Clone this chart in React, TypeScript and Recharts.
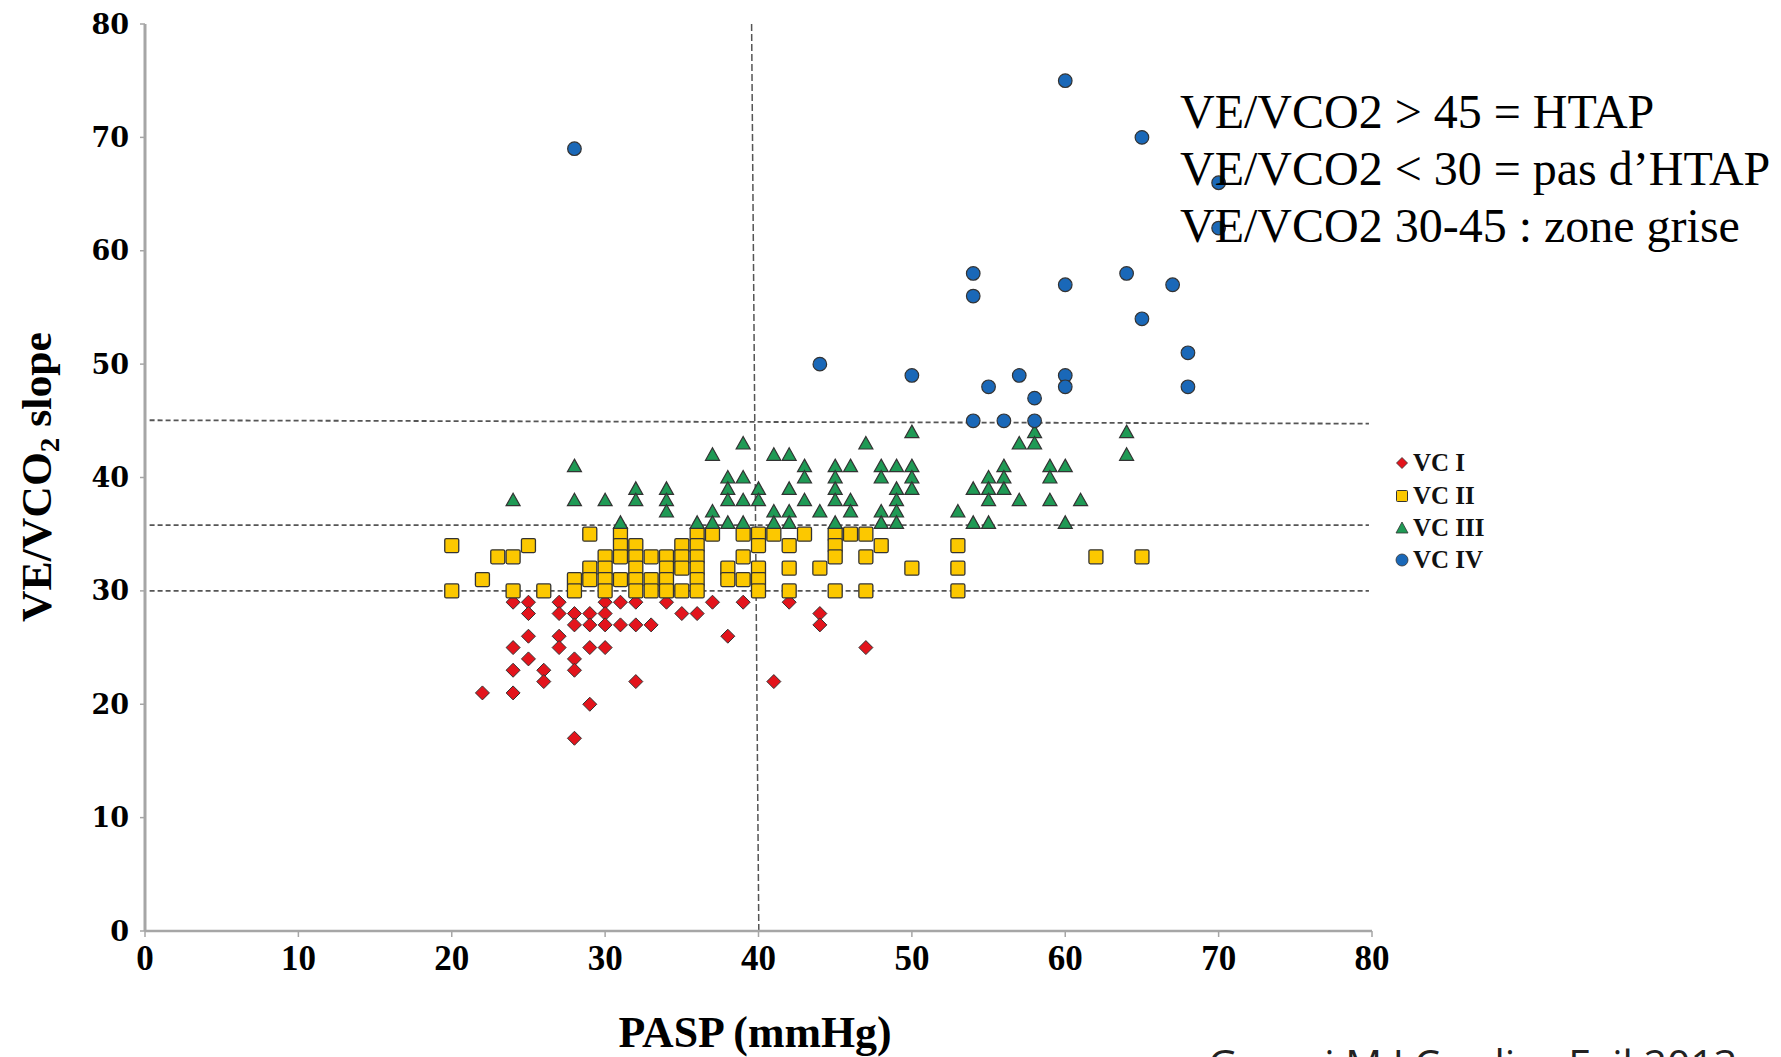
import React from 'react';
import { ScatterChart, Scatter, XAxis, YAxis, ReferenceLine } from 'recharts';

// ---------- data ----------
const xTicks = [0, 10, 20, 30, 40, 50, 60, 70, 80];
const yTicks = [0, 10, 20, 30, 40, 50, 60, 70, 80];

const seriesNames = ['VC I', 'VC II', 'VC III', 'VC IV'];

const vc1: [number, number][] = [
  [22, 21], [24, 29], [24, 25], [24, 23], [24, 21], [25, 29], [25, 28], [25, 26], [25, 24],
  [26, 23], [26, 22], [27, 29], [27, 28], [27, 26], [27, 25], [28, 28], [28, 27], [28, 24],
  [28, 23], [28, 17], [29, 28], [29, 27], [29, 25], [29, 20], [30, 29], [30, 28], [30, 27],
  [30, 25], [31, 29], [31, 27], [32, 29], [32, 27], [32, 22], [33, 27], [34, 29], [35, 28],
  [36, 28], [37, 29], [38, 26], [39, 29], [41, 22], [42, 29], [44, 28], [44, 27], [47, 25],
];

const vc2: [number, number][] = [
  [20, 34], [20, 30], [22, 31], [23, 33], [24, 33], [25, 34], [24, 30], [26, 30], [28, 31],
  [28, 30], [29, 35], [29, 32], [29, 31], [30, 33], [30, 32], [30, 31], [30, 30], [31, 35],
  [31, 34], [31, 33], [31, 31], [32, 34], [32, 33], [32, 32], [32, 31], [32, 30], [33, 33],
  [33, 31], [33, 30], [34, 33], [34, 32], [34, 31], [34, 30], [35, 34], [35, 33], [35, 32],
  [35, 30], [36, 35], [36, 34], [36, 33], [36, 32], [36, 31], [36, 30], [37, 35], [38, 32],
  [38, 31], [39, 35], [39, 33], [39, 31], [40, 35], [40, 34], [40, 32], [40, 31], [40, 30],
  [41, 35], [42, 34], [42, 32], [42, 30], [43, 35], [44, 32], [45, 35], [45, 34], [45, 33],
  [45, 30], [46, 35], [47, 35], [47, 33], [47, 30], [48, 34], [50, 32], [53, 34], [53, 32],
  [53, 30], [62, 33], [65, 33],
];

const vc3: [number, number][] = [
  [24, 38], [28, 41], [28, 38], [30, 38], [31, 36], [32, 39], [32, 38], [34, 39], [34, 38],
  [34, 37], [36, 36], [37, 42], [37, 37], [37, 36], [38, 40], [38, 39], [38, 38], [38, 36],
  [39, 43], [39, 40], [39, 38], [39, 36], [40, 39], [40, 38], [41, 42], [41, 37], [41, 36],
  [42, 42], [42, 39], [42, 37], [42, 36], [43, 41], [43, 40], [43, 38], [44, 37], [45, 41],
  [45, 40], [45, 39], [45, 38], [45, 36], [46, 41], [46, 38], [46, 37], [47, 43], [48, 41],
  [48, 40], [48, 37], [48, 36], [49, 41], [49, 39], [49, 38], [49, 37], [49, 36], [50, 44],
  [50, 41], [50, 40], [50, 39], [53, 37], [54, 39], [54, 36], [55, 40], [55, 39], [55, 38],
  [55, 36], [56, 41], [56, 40], [56, 39], [57, 43], [57, 38], [58, 44], [58, 43], [59, 41],
  [59, 40], [59, 38], [60, 41], [60, 36], [61, 38], [64, 44], [64, 42],
];

const vc4: [number, number][] = [
  [28, 69], [60, 75], [65, 70], [70, 66], [70, 62], [54, 58], [54, 56], [60, 57], [64, 58],
  [67, 57], [65, 54], [68, 51], [68, 48], [44, 50], [50, 49], [57, 49], [60, 49], [60, 48],
  [55, 48], [58, 47], [54, 45], [56, 45], [58, 45],
];

const hLines = [35.8, 30];
const annotationLines = [
  'VE/VCO2 > 45 = HTAP',
  'VE/VCO2 < 30 = pas d\u2019HTAP',
  'VE/VCO2 30-45 : zone grise',
];
const citation = 'Guazzi M J Cardiac Fail 2013';

// ---------- styles ----------
const RED = '#e3141c';
const YELLOW = '#fcc800';
const GREEN = '#1f9a55';
const BLUE = '#1a68b8';
const EDGE = '#333333';
const DASH = '#555555';

const toPts = (arr: [number, number][]) => arr.map(([x, y]) => ({ x, y }));

const Diamond = (p: any) => {
  const { cx, cy } = p;
  const r = 7;
  return (
    <path
      d={`M${cx},${cy - r}L${cx + r},${cy}L${cx},${cy + r}L${cx - r},${cy}Z`}
      fill={RED}
      stroke={EDGE}
      strokeWidth={1}
    />
  );
};
const Square = (p: any) => {
  const { cx, cy } = p;
  const h = 7;
  return (
    <rect x={cx - h} y={cy - h} width={2 * h} height={2 * h} rx={1.5} fill={YELLOW} stroke={EDGE} strokeWidth={1.3} />
  );
};
const Tri = (p: any) => {
  const { cx, cy } = p;
  return (
    <path
      d={`M${cx},${cy - 7}L${cx + 7},${cy + 5.5}L${cx - 7},${cy + 5.5}Z`}
      fill={GREEN}
      stroke={EDGE}
      strokeWidth={1.2}
    />
  );
};
const Dot = (p: any) => {
  const { cx, cy } = p;
  return <circle cx={cx} cy={cy} r={6.8} fill={BLUE} stroke={EDGE} strokeWidth={1.2} />;
};

const LegendMarker = ({ i, x, y }: { i: number; x: number; y: number }) => {
  if (i === 0) return <path d={`M${x},${y - 5.5}L${x + 5.5},${y}L${x},${y + 5.5}L${x - 5.5},${y}Z`} fill={RED} stroke={EDGE} strokeWidth={0.8} />;
  if (i === 1) return <rect x={x - 5.5} y={y - 5.5} width={11} height={11} rx={1} fill={YELLOW} stroke={EDGE} strokeWidth={1} />;
  if (i === 2) return <path d={`M${x},${y - 6}L${x + 6},${y + 5}L${x - 6},${y + 5}Z`} fill={GREEN} stroke={EDGE} strokeWidth={0.8} />;
  return <circle cx={x} cy={y} r={6} fill={BLUE} stroke={EDGE} strokeWidth={0.8} />;
};

export default function App() {
  const legendRows = [463, 496, 528, 560];
  return (
    <div style={{ position: 'absolute', left: 0, top: 0, width: 1781, height: 1057, background: '#fff', overflow: 'hidden' }}>
      <ScatterChart width={1781} height={1057} margin={{ top: 24, right: 409, bottom: 0, left: 0 }}>
        <XAxis
          type="number"
          dataKey="x"
          domain={[0, 80]}
          ticks={xTicks}
          interval={0}
          height={126}
          tickSize={6}
          tickMargin={8}
          axisLine={{ stroke: '#a6a6a6', strokeWidth: 2.5 }}
          tickLine={{ stroke: '#a6a6a6', strokeWidth: 1.5 }}
          tick={{ fontFamily: 'Liberation Serif', fontWeight: 'bold', fontSize: 35, fill: '#000' }}
        />
        <YAxis
          type="number"
          dataKey="y"
          domain={[0, 80]}
          ticks={yTicks}
          interval={0}
          width={145}
          tickSize={5}
          tickMargin={11}
          axisLine={{ stroke: '#a6a6a6', strokeWidth: 3 }}
          tickLine={{ stroke: '#a6a6a6', strokeWidth: 1.5 }}
          tick={{ fontFamily: 'DejaVu Serif', fontWeight: 'bold', fontSize: 27, fill: '#000' }}
        />
        <ReferenceLine
          segment={[{ x: 0.3, y: 45.05 }, { x: 79.8, y: 44.75 }]}
          stroke={DASH}
          strokeWidth={1.8}
          strokeDasharray="5 3"
        />
        {hLines.map((v) => (
          <ReferenceLine
            key={v}
            segment={[{ x: 0.3, y: v }, { x: 79.8, y: v }]}
            stroke={DASH}
            strokeWidth={1.8}
            strokeDasharray="5 3"
          />
        ))}
        <ReferenceLine
          segment={[{ x: 39.55, y: 80 }, { x: 40.02, y: 0 }]}
          stroke={DASH}
          strokeWidth={1.5}
          strokeDasharray="7 3"
        />
        <Scatter name={seriesNames[0]} data={toPts(vc1)} shape={Diamond} isAnimationActive={false} />
        <Scatter name={seriesNames[1]} data={toPts(vc2)} shape={Square} isAnimationActive={false} />
        <Scatter name={seriesNames[2]} data={toPts(vc3)} shape={Tri} isAnimationActive={false} />
        <Scatter name={seriesNames[3]} data={toPts(vc4)} shape={Dot} isAnimationActive={false} />
      </ScatterChart>
      <svg
        width={1781}
        height={1057}
        style={{ position: 'absolute', left: 0, top: 0, pointerEvents: 'none' }}
      >
        <text
          transform="translate(51,477) rotate(-90)"
          textAnchor="middle"
          fontFamily="Liberation Serif"
          fontWeight="bold"
          fontSize={42}
          fill="#000"
          textLength={290}
          lengthAdjust="spacingAndGlyphs"
        >
          VE/VCO<tspan fontSize={28} dy={8}>2</tspan>
          <tspan dy={-8}> slope</tspan>
        </text>
        <text
          x={755}
          y={1047}
          textAnchor="middle"
          fontFamily="Liberation Serif"
          fontWeight="bold"
          fontSize={44}
          fill="#000"
          textLength={273}
          lengthAdjust="spacingAndGlyphs"
        >
          PASP (mmHg)
        </text>
        {annotationLines.map((t, i) => (
          <text key={t} x={1180} y={128 + i * 57} fontFamily="Liberation Serif" fontSize={48} fill="#000">
            {t}
          </text>
        ))}
        {seriesNames.map((n, i) => (
          <g key={n}>
            <LegendMarker i={i} x={1402} y={legendRows[i]} />
            <text
              x={1413}
              y={legendRows[i] + 8}
              fontFamily="Liberation Serif"
              fontWeight="bold"
              fontSize={25}
              fill="#111"
            >
              {n}
            </text>
          </g>
        ))}
        <text x={1208} y={1079} fontFamily="Open Sans" fontSize={41} fill="#222">
          {citation}
        </text>
      </svg>
    </div>
  );
}
